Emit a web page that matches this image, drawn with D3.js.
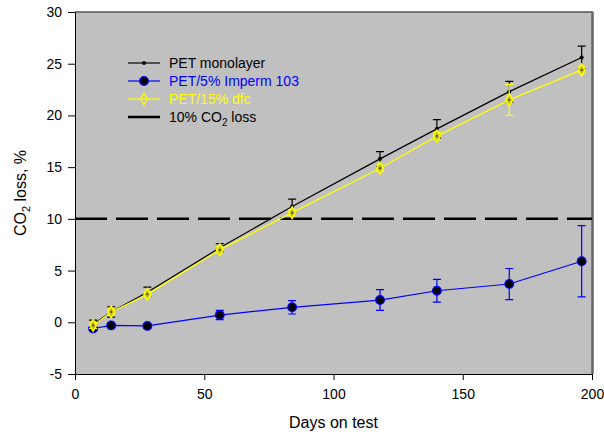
<!DOCTYPE html>
<html>
<head>
<meta charset="utf-8">
<script src="https://cdn.jsdelivr.net/npm/d3@7"></script>
<style>
  body { margin: 0; background: #fff; }
  text { font-family: "Liberation Sans", Arial, sans-serif; }
</style>
</head>
<body>
<div id="chart"></div>
<script>
var days = [7, 14, 28, 56, 84, 118, 140, 168, 196];

var petMono = [-0.2, 1.0, 2.9, 7.2, 11.2, 15.8, 18.7, 22.3, 25.6];
var petMonoErr = [0.4, 0.5, 0.5, 0.4, 0.7, 0.7, 0.9, 1.0, 1.1];

var petImperm = [-0.6, -0.3, -0.35, 0.7, 1.45, 2.15, 3.05, 3.7, 5.9];
var petImpermErr = [0.2, 0.2, 0.2, 0.45, 0.65, 1.0, 1.1, 1.5, 3.45];

var petDfc = [-0.3, 1.0, 2.7, 7.0, 10.6, 14.9, 18.0, 21.5, 24.4];
var petDfcErr = [0.3, 0.3, 0.3, 0.3, 0.3, 0.3, 0.35, 1.5, 0.3];

var xTicks = [0, 50, 100, 150, 200];
var yTicks = [-5, 0, 5, 10, 15, 20, 25, 30];
var limit = 10;

var legendNames = ["PET monolayer", "PET/5% Imperm 103", "PET/15% dfc", "10% CO2 loss"];

var W = 604, H = 434;
var margin = { top: 12, right: 12, bottom: 60, left: 75 };
var width = 592 - margin.left;
var height = 374 - margin.top;

var svg = d3.select("#chart").append("svg")
    .attr("width", W)
    .attr("height", H);

var g = svg.append("g")
    .attr("transform", "translate(" + margin.left + "," + margin.top + ")");

var x = d3.scaleLinear().domain([0, 200]).range([0, width]);
var y = d3.scaleLinear().domain([-5, 30]).range([height, 0]);

// plot background + frame
g.append("rect")
    .attr("width", width).attr("height", height)
    .attr("fill", "#c0c0c0");
g.append("line")
    .attr("x1", 0).attr("x2", width + 1).attr("y1", 0).attr("y2", 0)
    .attr("stroke", "#555").attr("stroke-width", 1.5);
g.append("line")
    .attr("x1", width + 0.5).attr("x2", width + 0.5).attr("y1", 0).attr("y2", height)
    .attr("stroke", "#666").attr("stroke-width", 2.5);

// axes (plain hyphen for negatives, like the original)
var fmt = function (d) { return String(d); };
var xAxis = g.append("g")
    .attr("transform", "translate(0," + height + ")")
    .call(d3.axisBottom(x).tickValues(xTicks).tickFormat(fmt).tickSize(6).tickSizeOuter(0).tickPadding(9));
var yAxis = g.append("g")
    .call(d3.axisLeft(y).tickValues(yTicks).tickFormat(fmt).tickSize(7).tickSizeOuter(0).tickPadding(6));
[xAxis, yAxis].forEach(function (a) {
    a.selectAll("text").attr("font-size", 14).attr("fill", "#000")
        .style("font-family", "'Liberation Sans', Arial, sans-serif");
    a.selectAll("line,path").attr("stroke", "#000");
});

// 10% line
g.append("line")
    .attr("x1", x(0)).attr("x2", x(200))
    .attr("y1", y(limit)).attr("y2", y(limit))
    .attr("stroke", "#000").attr("stroke-width", 2.5)
    .attr("stroke-dasharray", "32,9");

function drawSeries(vals, errs, color, capColor, marker) {
    var pts = days.map(function (d, i) { return { x: d, y: vals[i], e: errs[i] }; });
    var s = g.append("g");
    s.selectAll(".err").data(pts).enter().append("path")
        .attr("d", function (d) {
            var cx = x(d.x), t = y(d.y + d.e), b = y(d.y - d.e);
            return "M" + (cx - 4) + "," + t + "H" + (cx + 4) +
                "M" + cx + "," + t + "V" + b +
                "M" + (cx - 4) + "," + b + "H" + (cx + 4);
        })
        .attr("stroke", capColor).attr("stroke-width", 1.2).attr("fill", "none");
    s.append("path").datum(pts)
        .attr("d", d3.line().x(function (d) { return x(d.x); }).y(function (d) { return y(d.y); }))
        .attr("stroke", color).attr("stroke-width", 1.2).attr("fill", "none");
    s.selectAll(".m").data(pts).enter().append("g")
        .attr("transform", function (d) { return "translate(" + x(d.x) + "," + y(d.y) + ")"; })
        .each(function () { marker(d3.select(this)); });
}

function blackDot(sel) {
    sel.append("circle").attr("r", 2).attr("fill", "#000");
}
function blueDot(sel) {
    sel.append("circle").attr("r", 4.3).attr("fill", "#000")
        .attr("stroke", "#0000ff").attr("stroke-width", 1.3);
}
function yellowDiamond(sel) {
    sel.append("path").attr("d", d3.symbol().type(d3.symbolDiamond).size(40)())
        .attr("fill", "#b8b820").attr("stroke", "#ffff00").attr("stroke-width", 1.5);
    sel.append("circle").attr("r", 1).attr("fill", "#444");
}

drawSeries(petImperm, petImpermErr, "#0000ff", "#0000ff", blueDot);
drawSeries(petMono, petMonoErr, "#000", "#000", blackDot);
drawSeries(petDfc, petDfcErr, "#ffff00", "#ffff00", yellowDiamond);

// legend
var legColors = ["#000", "#0000ff", "#ffff00", "#000"];
var legMarkers = [blackDot, blueDot, function (sel) {
    sel.append("path").attr("d", d3.symbol().type(d3.symbolDiamond).size(40)())
        .attr("fill", "none").attr("stroke", "#ffff00").attr("stroke-width", 1.2);
}, null];
var legY = [63, 81, 99, 117];
legendNames.forEach(function (name, i) {
    var lg = svg.append("g").attr("transform", "translate(128," + legY[i] + ")");
    lg.append("line").attr("x1", 0).attr("x2", 32)
        .attr("stroke", legColors[i]).attr("stroke-width", i === 3 ? 2.5 : 1.2);
    if (legMarkers[i]) legMarkers[i](lg.append("g").attr("transform", "translate(16,0)"));
    var t = lg.append("text").attr("x", 41).attr("y", 5)
        .attr("font-size", 14).attr("fill", legColors[i]);
    if (i === 3) {
        t.append("tspan").text("10% CO");
        t.append("tspan").attr("font-size", 10).attr("dy", 4).text("2");
        t.append("tspan").attr("dy", -4).text(" loss");
    } else {
        t.text(name);
    }
});

// axis titles
svg.append("text")
    .attr("x", margin.left + width / 2).attr("y", 428)
    .attr("text-anchor", "middle").attr("font-size", 16)
    .text("Days on test");

var yt = svg.append("text")
    .attr("transform", "translate(26," + (margin.top + height / 2) + ") rotate(-90)")
    .attr("text-anchor", "middle").attr("font-size", 16);
yt.append("tspan").text("CO");
yt.append("tspan").attr("font-size", 11).attr("dy", 4).text("2");
yt.append("tspan").attr("dy", -4).text(" loss, %");
</script>
</body>
</html>
